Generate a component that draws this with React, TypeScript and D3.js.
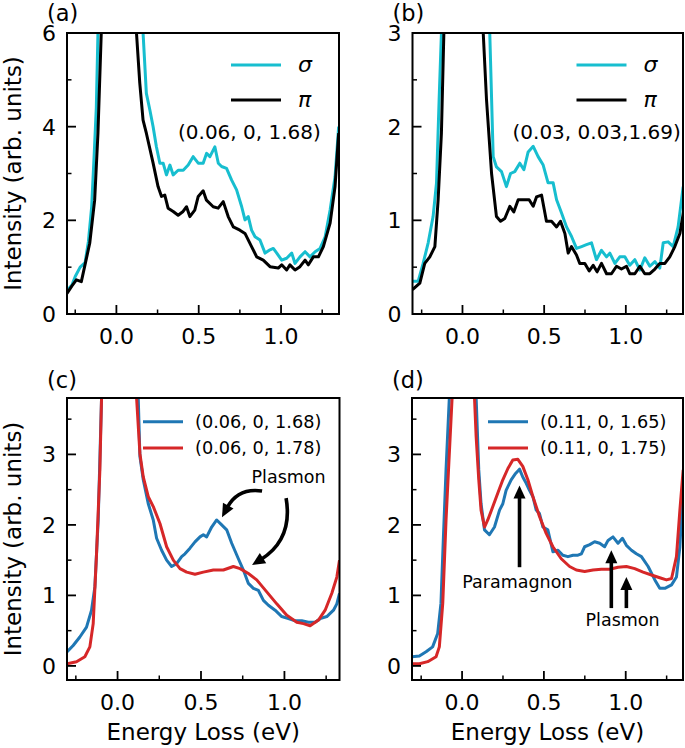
import React from "react";
import * as d3 from "d3";

type P = [number, number];

// ---------- DATA ----------
const xMajor = [0, 0.5, 1.0];
const xMajorLabels = ["0.0", "0.5", "1.0"];
const xMinor = [-0.25, 0.25, 0.75, 1.25];

const yMajorA = [0, 2, 4, 6];
const yMajorLabelsA = ["0", "2", "4", "6"];
const yMinorA = [1, 3, 5];
const yMajorB = [0, 1, 2, 3];
const yMajorLabelsB = ["0", "1", "2", "3"];
const yMinorB = [0.5, 1.5, 2.5];
const yMajorCD = [0, 1, 2, 3];
const yMajorLabelsCD = ["0", "1", "2", "3"];
const yMinorCD = [0.5, 1.5, 2.5, 3.5];

const aSigma: P[] = [
  [-0.30, 0.50], [-0.27, 0.62], [-0.25, 0.80], [-0.22, 1.0], [-0.19, 1.10], [-0.17, 1.55], [-0.15, 2.3],
  [-0.135, 3.4], [-0.122, 4.4], [-0.112, 6.0], [-0.09, 14], [0.0, 60], [0.12, 14], [0.162, 6.0],
  [0.182, 4.71], [0.203, 4.36], [0.223, 4.0], [0.243, 3.57], [0.264, 3.22], [0.284, 3.22], [0.304, 2.97],
  [0.325, 3.18], [0.345, 2.97], [0.375, 3.07], [0.406, 3.07], [0.436, 3.18], [0.466, 3.36], [0.497, 3.22],
  [0.527, 3.22], [0.548, 3.43], [0.568, 3.36], [0.598, 3.57], [0.619, 3.22], [0.639, 3.15], [0.669, 3.11],
  [0.700, 2.86], [0.730, 2.65], [0.761, 2.29], [0.781, 2.01], [0.801, 2.08], [0.821, 1.79], [0.842, 1.65],
  [0.872, 1.58], [0.903, 1.30], [0.933, 1.37], [0.953, 1.40], [0.974, 1.30], [1.004, 1.15], [1.034, 1.19],
  [1.065, 1.30], [1.085, 1.08], [1.115, 1.22], [1.146, 1.33], [1.176, 1.22], [1.207, 1.33], [1.237, 1.40],
  [1.268, 1.65], [1.298, 2.22], [1.328, 2.93], [1.35, 4.0],
];
const aPi: P[] = [
  [-0.30, 0.44], [-0.27, 0.60], [-0.243, 0.73], [-0.213, 0.69], [-0.162, 1.51], [-0.132, 2.43], [-0.112, 3.86],
  [-0.092, 6.0], [-0.07, 14], [0.0, 60], [0.10, 14], [0.122, 6.0], [0.142, 4.93], [0.162, 4.14], [0.182, 3.86],
  [0.223, 3.22], [0.253, 2.72], [0.274, 2.51], [0.294, 2.54], [0.314, 2.26], [0.345, 2.19], [0.375, 2.11],
  [0.405, 2.19], [0.426, 2.29], [0.446, 2.08], [0.476, 2.22], [0.497, 2.51], [0.527, 2.63], [0.547, 2.43],
  [0.588, 2.29], [0.618, 2.26], [0.649, 2.40], [0.679, 2.08], [0.710, 1.86], [0.750, 1.79], [0.781, 1.72],
  [0.821, 1.44], [0.852, 1.22], [0.892, 1.15], [0.933, 1.01], [0.983, 0.98], [1.004, 1.05], [1.034, 0.94],
  [1.054, 1.05], [1.085, 0.94], [1.115, 1.01], [1.146, 1.15], [1.166, 1.05], [1.196, 1.22], [1.227, 1.22],
  [1.257, 1.44], [1.298, 1.94], [1.328, 2.72], [1.35, 3.86],
];

const bSigma: P[] = [
  [-0.306, 0.35], [-0.271, 0.35], [-0.241, 0.54], [-0.210, 0.76], [-0.180, 1.04], [-0.159, 1.40], [-0.143, 2.29],
  [-0.129, 3.0], [-0.10, 8], [0.0, 30], [0.14, 8], [0.167, 3.0], [0.188, 1.68], [0.208, 1.57], [0.239, 1.52],
  [0.269, 1.36], [0.294, 1.50], [0.320, 1.52], [0.351, 1.61], [0.376, 1.54], [0.402, 1.73], [0.433, 1.79],
  [0.463, 1.68], [0.494, 1.59], [0.524, 1.40], [0.555, 1.40], [0.576, 1.22], [0.606, 1.08], [0.637, 0.93],
  [0.667, 0.83], [0.698, 0.70], [0.729, 0.72], [0.759, 0.74], [0.790, 0.76], [0.820, 0.58], [0.851, 0.68],
  [0.882, 0.61], [0.902, 0.65], [0.933, 0.54], [0.963, 0.61], [0.994, 0.61], [1.024, 0.52], [1.055, 0.58],
  [1.086, 0.47], [1.116, 0.60], [1.147, 0.51], [1.178, 0.56], [1.208, 0.49], [1.229, 0.76], [1.259, 0.77],
  [1.290, 0.72], [1.320, 0.93], [1.351, 1.36],
];
const bPi: P[] = [
  [-0.306, 0.26], [-0.261, 0.33], [-0.231, 0.54], [-0.200, 0.61], [-0.169, 0.72], [-0.149, 1.22], [-0.129, 1.93],
  [-0.114, 3.0], [-0.09, 8], [0.0, 30], [0.10, 8], [0.127, 3.0], [0.147, 2.29], [0.178, 1.50], [0.208, 1.04],
  [0.233, 0.99], [0.259, 1.02], [0.290, 1.15], [0.314, 1.09], [0.341, 1.22], [0.382, 1.22], [0.408, 1.22],
  [0.433, 1.15], [0.453, 1.25], [0.484, 1.27], [0.514, 0.99], [0.545, 0.99], [0.576, 0.93], [0.600, 0.99],
  [0.627, 0.86], [0.647, 0.65], [0.667, 0.72], [0.698, 0.63], [0.718, 0.54], [0.749, 0.54], [0.776, 0.46],
  [0.800, 0.52], [0.824, 0.45], [0.851, 0.54], [0.882, 0.43], [0.912, 0.43], [0.943, 0.51], [0.973, 0.48],
  [1.004, 0.51], [1.024, 0.43], [1.055, 0.43], [1.086, 0.51], [1.116, 0.43], [1.147, 0.43], [1.178, 0.48],
  [1.208, 0.54], [1.239, 0.54], [1.269, 0.61], [1.300, 0.72], [1.331, 0.86], [1.355, 1.11],
];

const cBlue: P[] = [
  [-0.302, 0.20], [-0.266, 0.29], [-0.226, 0.41], [-0.186, 0.55], [-0.156, 0.79], [-0.136, 1.12], [-0.116, 2.07],
  [-0.096, 3.8], [-0.07, 12], [0.0, 40], [0.10, 12], [0.124, 3.8], [0.134, 2.97], [0.154, 2.64], [0.184, 2.30],
  [0.214, 2.07], [0.234, 1.81], [0.264, 1.64], [0.294, 1.50], [0.324, 1.41], [0.354, 1.45], [0.384, 1.55],
  [0.404, 1.59], [0.434, 1.67], [0.464, 1.76], [0.494, 1.83], [0.514, 1.86], [0.534, 1.83], [0.564, 1.97],
  [0.594, 2.07], [0.624, 2.00], [0.654, 1.93], [0.684, 1.74], [0.724, 1.52], [0.754, 1.36], [0.784, 1.17],
  [0.814, 1.10], [0.844, 1.07], [0.874, 0.93], [0.904, 0.86], [0.944, 0.79], [0.984, 0.70], [1.024, 0.67],
  [1.064, 0.64], [1.104, 0.64], [1.144, 0.62], [1.184, 0.62], [1.214, 0.67], [1.254, 0.70], [1.294, 0.79],
  [1.314, 0.88], [1.33, 1.03],
];
const cRed: P[] = [
  [-0.302, 0.03], [-0.246, 0.06], [-0.196, 0.13], [-0.166, 0.27], [-0.146, 0.60], [-0.126, 1.59], [-0.106, 2.78],
  [-0.096, 3.8], [-0.07, 12], [0.0, 40], [0.09, 12], [0.114, 3.8], [0.134, 3.01], [0.154, 2.68], [0.184, 2.40],
  [0.214, 2.26], [0.254, 2.02], [0.294, 1.69], [0.334, 1.50], [0.374, 1.38], [0.414, 1.33], [0.464, 1.30],
  [0.514, 1.33], [0.574, 1.36], [0.634, 1.36], [0.694, 1.41], [0.734, 1.38], [0.784, 1.31], [0.834, 1.22],
  [0.894, 1.05], [0.954, 0.88], [1.014, 0.72], [1.074, 0.62], [1.114, 0.60], [1.154, 0.57], [1.204, 0.65],
  [1.244, 0.79], [1.284, 1.03], [1.314, 1.26], [1.33, 1.50],
];

const dBlue: P[] = [
  [-0.306, 0.13], [-0.261, 0.14], [-0.220, 0.20], [-0.180, 0.27], [-0.149, 0.46], [-0.129, 0.89], [-0.114, 1.83],
  [-0.098, 2.78], [-0.078, 3.8], [-0.05, 12], [0.0, 40], [0.06, 12], [0.086, 3.8], [0.102, 2.78], [0.116, 2.30],
  [0.137, 1.93], [0.167, 1.86], [0.198, 1.97], [0.229, 2.21], [0.249, 2.30], [0.269, 2.49], [0.300, 2.64],
  [0.327, 2.73], [0.351, 2.79], [0.371, 2.68], [0.392, 2.59], [0.412, 2.49], [0.433, 2.40], [0.453, 2.21],
  [0.473, 2.16], [0.494, 1.97], [0.524, 1.93], [0.555, 1.62], [0.586, 1.64], [0.616, 1.57], [0.647, 1.55],
  [0.678, 1.57], [0.708, 1.57], [0.729, 1.59], [0.749, 1.69], [0.780, 1.72], [0.810, 1.76], [0.841, 1.74],
  [0.871, 1.69], [0.892, 1.78], [0.922, 1.83], [0.953, 1.74], [0.980, 1.81], [1.004, 1.71], [1.035, 1.64],
  [1.065, 1.59], [1.096, 1.55], [1.137, 1.41], [1.178, 1.22], [1.208, 1.10], [1.239, 1.10], [1.280, 1.15],
  [1.310, 1.26], [1.331, 1.69], [1.351, 2.54],
];
const dRed: P[] = [
  [-0.306, 0.03], [-0.261, 0.03], [-0.210, 0.06], [-0.159, 0.13], [-0.139, 0.27], [-0.118, 0.89], [-0.098, 2.07],
  [-0.078, 3.01], [-0.061, 3.8], [-0.04, 12], [0.0, 40], [0.05, 12], [0.076, 3.8], [0.086, 3.25], [0.102, 2.64],
  [0.116, 2.21], [0.137, 1.97], [0.157, 2.07], [0.188, 2.26], [0.218, 2.45], [0.249, 2.64], [0.280, 2.80],
  [0.310, 2.92], [0.341, 2.93], [0.371, 2.83], [0.402, 2.64], [0.433, 2.40], [0.473, 2.12], [0.514, 1.88],
  [0.555, 1.69], [0.606, 1.52], [0.657, 1.41], [0.698, 1.36], [0.749, 1.34], [0.800, 1.36], [0.851, 1.37],
  [0.902, 1.37], [0.953, 1.40], [1.004, 1.41], [1.055, 1.38], [1.106, 1.33], [1.157, 1.29], [1.208, 1.25],
  [1.249, 1.22], [1.280, 1.24], [1.310, 1.55], [1.331, 2.21], [1.351, 2.78],
];

const legendA = ["σ", "π"];
const legendC = ["(0.06, 0, 1.68)", "(0.06, 0, 1.78)"];
const legendD = ["(0.11, 0, 1.65)", "(0.11, 0, 1.75)"];
const noteA = "(0.06, 0, 1.68)";
const noteB = "(0.03, 0.03,1.69)";

// ---------- STYLE ----------
const FONT = "'DejaVu Sans', sans-serif";
const CYAN = "#17becf";
const BLACK = "#000000";
const BLUE = "#1f77b4";
const RED = "#d62728";

type Frame = { l: number; r: number; t: number; b: number };

type Arrow = { s: P; e: P; c?: P };

function arrowShape(x: any, y: any, a: Arrow, key: string) {
  const S: P = [x(a.s[0]), y(a.s[1])];
  const E: P = [x(a.e[0]), y(a.e[1])];
  const C: P | null = a.c ? [x(a.c[0]), y(a.c[1])] : null;
  const ref = C ?? S;
  const dx = E[0] - ref[0];
  const dy = E[1] - ref[1];
  const len = Math.hypot(dx, dy);
  const ux = dx / len, uy = dy / len;
  const L = 13, W = 12;
  const B: P = [E[0] - ux * L, E[1] - uy * L];
  const px = -uy, py = ux;
  const path = C
    ? `M${S[0]},${S[1]} Q${C[0]},${C[1]} ${B[0] + ux * 2},${B[1] + uy * 2}`
    : `M${S[0]},${S[1]} L${B[0] + ux * 2},${B[1] + uy * 2}`;
  const head = `${E[0]},${E[1]} ${B[0] + px * W / 2},${B[1] + py * W / 2} ${B[0] - px * W / 2},${B[1] - py * W / 2}`;
  return (
    <g key={key}>
      <path d={path} fill="none" stroke="#000" strokeWidth={3.6} />
      <polygon points={head} fill="#000" />
    </g>
  );
}

function Panel(props: {
  id: string;
  f: Frame;
  xd: [number, number];
  yd: [number, number];
  yMajor: number[];
  yLabels: string[];
  yMinor: number[];
  series: { data: P[]; color: string }[];
  label: string;
  labelY: number;
  showXLabel: boolean;
  showYLabel: boolean;
  extra?: (x: any, y: any) => React.ReactNode;
}) {
  const { id, f, xd, yd } = props;
  const x = d3.scaleLinear().domain(xd).range([f.l, f.r]);
  const y = d3.scaleLinear().domain(yd).range([f.b, f.t]);
  const line = d3
    .line<P>()
    .x((d) => x(d[0]))
    .y((d) => y(d[1]));
  const majLen = 9, minLen = 4.5;
  return (
    <g>
      <defs>
        <clipPath id={`clip-${id}`}>
          <rect x={f.l} y={f.t} width={f.r - f.l} height={f.b - f.t} />
        </clipPath>
      </defs>
      <g clipPath={`url(#clip-${id})`}>
        {props.series.map((s, i) => (
          <path key={i} d={line(s.data) || ""} fill="none" stroke={s.color} strokeWidth={3}
            strokeLinejoin="round" strokeLinecap="butt" />
        ))}
      </g>
      {props.extra && props.extra(x, y)}
      {xMajor.map((v, i) => (
        <g key={"xm" + i}>
          <line x1={x(v)} x2={x(v)} y1={f.b} y2={f.b - majLen} stroke="#000" strokeWidth={1.8} />
          <text x={x(v)} y={f.b + 29.5} textAnchor="middle" fontSize={22} fontFamily={FONT}>
            {xMajorLabels[i]}
          </text>
        </g>
      ))}
      {xMinor.map((v, i) => (
        <line key={"xn" + i} x1={x(v)} x2={x(v)} y1={f.b} y2={f.b - minLen} stroke="#000" strokeWidth={1.5} />
      ))}
      {props.yMajor.map((v, i) => (
        <g key={"ym" + i}>
          <line x1={f.l} x2={f.l + majLen} y1={y(v)} y2={y(v)} stroke="#000" strokeWidth={1.8} />
          <text x={f.l - 11} y={y(v) + 8} textAnchor="end" fontSize={22} fontFamily={FONT}>
            {props.yLabels[i]}
          </text>
        </g>
      ))}
      {props.yMinor.map((v, i) => (
        <line key={"yn" + i} x1={f.l} x2={f.l + minLen} y1={y(v)} y2={y(v)} stroke="#000" strokeWidth={1.5} />
      ))}
      <rect x={f.l} y={f.t} width={f.r - f.l} height={f.b - f.t} fill="none" stroke="#000" strokeWidth={2} />
      <text x={f.l - 20} y={props.labelY} fontSize={22.5} fontFamily={FONT}>
        {props.label}
      </text>
      {props.showXLabel && (
        <text x={(f.l + f.r) / 2} y={740} textAnchor="middle" fontSize={23} fontFamily={FONT}>
          Energy Loss (eV)
        </text>
      )}
      {props.showYLabel && (
        <text transform={`translate(20.5,${(f.t + f.b) / 2}) rotate(-90)`} textAnchor="middle" fontSize={23}
          fontFamily={FONT}>
          Intensity (arb. units)
        </text>
      )}
    </g>
  );
}

function SigmaLegend(f: Frame, note: string, noteX: number) {
  return (
    <g>
      {[CYAN, BLACK].map((c, i) => (
        <g key={i}>
          <line x1={f.l + 164} x2={f.l + 214} y1={f.t + 32 + i * 35} y2={f.t + 32 + i * 35} stroke={c}
            strokeWidth={3} />
          <text x={f.l + 231} y={f.t + 38.5 + i * 35} fontSize={22} fontStyle="italic" fontFamily={FONT}>
            {legendA[i]}
          </text>
        </g>
      ))}
      <text x={f.l + noteX} y={f.t + 106} fontSize={20} fontFamily={FONT}>
        {note}
      </text>
    </g>
  );
}

function QLegend(f: Frame, labels: string[]) {
  return (
    <g>
      {[BLUE, RED].map((c, i) => (
        <g key={i}>
          <line x1={f.l + 76} x2={f.l + 116} y1={f.t + 23.7 + i * 26.3} y2={f.t + 23.7 + i * 26.3} stroke={c}
            strokeWidth={3} />
          <text x={f.l + 128} y={f.t + 30 + i * 26.3} fontSize={17.7} fontFamily={FONT}>
            {labels[i]}
          </text>
        </g>
      ))}
    </g>
  );
}

const fa: Frame = { l: 67, r: 339, t: 33, b: 314 };
const fb: Frame = { l: 412.5, r: 683, t: 33, b: 314 };
const fc: Frame = { l: 67, r: 339.5, t: 398, b: 680 };
const fd: Frame = { l: 412, r: 683, t: 398, b: 680 };

// annotation positions in data units
const cArrows: Arrow[] = [
  { s: [0.866, 2.48], c: [0.722, 2.53], e: [0.626, 2.11] },
  { s: [1.010, 2.38], c: [1.052, 1.80], e: [0.806, 1.43] },
];
const cPlasmonText: P = [1.025, 2.68];
const dArrows: Arrow[] = [
  { s: [0.351, 1.40], e: [0.351, 2.56] },
  { s: [0.912, 0.82], e: [0.912, 1.64] },
  { s: [1.004, 0.82], e: [1.004, 1.26] },
];
const dParaText: P = [0.338, 1.19];
const dPlasText: P = [0.981, 0.65];

export default function App() {
  return (
    <svg width={685} height={748} style={{ display: "block", position: "absolute", left: 0, top: 0 }}
      xmlns="http://www.w3.org/2000/svg">
      <rect width={685} height={748} fill="#fff" />
      <Panel id="a" f={fa} xd={[-0.3, 1.352]} yd={[0, 6]} yMajor={yMajorA} yLabels={yMajorLabelsA}
        yMinor={yMinorA} series={[{ data: aSigma, color: CYAN }, { data: aPi, color: BLACK }]} label="(a)"
        labelY={21} showXLabel={false} showYLabel={true} extra={() => SigmaLegend(fa, noteA, 111)} />
      <Panel id="b" f={fb} xd={[-0.306, 1.35]} yd={[0, 3]} yMajor={yMajorB} yLabels={yMajorLabelsB}
        yMinor={yMinorB} series={[{ data: bSigma, color: CYAN }, { data: bPi, color: BLACK }]} label="(b)"
        labelY={21} showXLabel={false} showYLabel={false} extra={() => SigmaLegend(fb, noteB, 100)} />
      <Panel id="c" f={fc} xd={[-0.303, 1.33]} yd={[-0.2, 3.8]} yMajor={yMajorCD} yLabels={yMajorLabelsCD}
        yMinor={yMinorCD} series={[{ data: cBlue, color: BLUE }, { data: cRed, color: RED }]} label="(c)"
        labelY={387.5} showXLabel={true} showYLabel={true}
        extra={(x, y) => (
          <g>
            {QLegend(fc, legendC)}
            <text x={x(cPlasmonText[0])} y={y(cPlasmonText[1]) + 6.3} textAnchor="middle" fontSize={17.5}
              fontFamily={FONT}>Plasmon</text>
            {cArrows.map((a, i) => arrowShape(x, y, a, "ca" + i))}
          </g>
        )} />
      <Panel id="d" f={fd} xd={[-0.306, 1.35]} yd={[-0.2, 3.8]} yMajor={yMajorCD} yLabels={yMajorLabelsCD}
        yMinor={yMinorCD} series={[{ data: dBlue, color: BLUE }, { data: dRed, color: RED }]} label="(d)"
        labelY={387.5} showXLabel={true} showYLabel={false}
        extra={(x, y) => (
          <g>
            {QLegend(fd, legendD)}
            <text x={x(dParaText[0])} y={y(dParaText[1]) + 6.3} textAnchor="middle" fontSize={17.5}
              fontFamily={FONT}>Paramagnon</text>
            <text x={x(dPlasText[0])} y={y(dPlasText[1]) + 6.3} textAnchor="middle" fontSize={17.5}
              fontFamily={FONT}>Plasmon</text>
            {dArrows.map((a, i) => arrowShape(x, y, a, "da" + i))}
          </g>
        )} />
    </svg>
  );
}
